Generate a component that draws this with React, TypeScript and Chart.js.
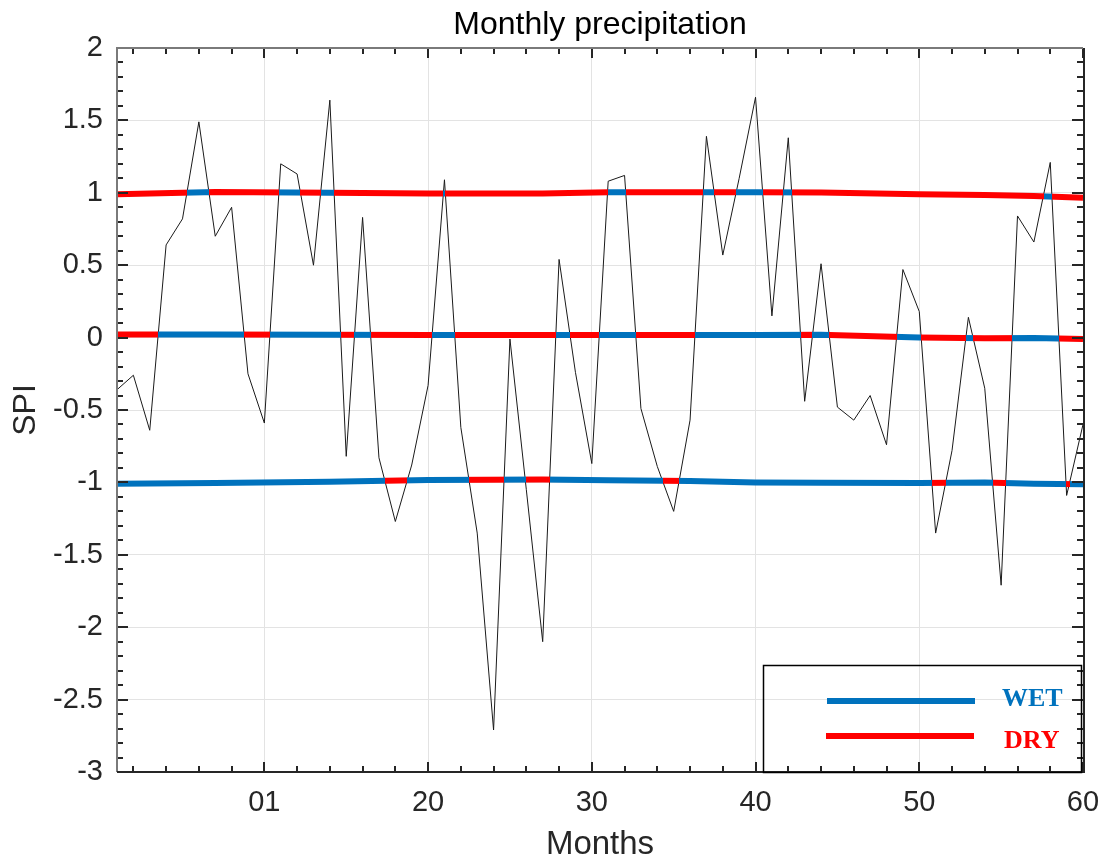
import React, { useEffect, useRef } from "react";
import { Chart, registerables } from "chart.js";

Chart.register(...registerables);

// ---------- data ----------
const months = [
  1, 2, 3, 4, 5, 6, 7, 8, 9, 10, 11, 12, 13, 14, 15, 16, 17, 18, 19, 20,
  21, 22, 23, 24, 25, 26, 27, 28, 29, 30, 31, 32, 33, 34, 35, 36, 37, 38, 39, 40,
  41, 42, 43, 44, 45, 46, 47, 48, 49, 50, 51, 52, 53, 54, 55, 56, 57, 58, 59, 60,
];
const spi = [
  -0.36, -0.26, -0.64, 0.64, 0.82, 1.49, 0.7, 0.9, -0.25, -0.59,
  1.2, 1.13, 0.5, 1.64, -0.82, 0.83, -0.83, -1.27, -0.88, -0.33,
  1.09, -0.62, -1.35, -2.71, -0.01, -1.05, -2.1, 0.54, -0.24, -0.87,
  1.08, 1.12, -0.49, -0.89, -1.2, -0.57, 1.39, 0.57, 1.1, 1.66,
  0.15, 1.38, -0.44, 0.51, -0.48, -0.57, -0.4, -0.74, 0.47, 0.18,
  -1.35, -0.78, 0.14, -0.35, -1.71, 0.84, 0.66, 1.21, -1.09, -0.6,
];
const trendMonths = [1, 7, 14, 20, 27, 31, 36, 40, 44, 50, 54, 57, 60];
const upperTrend = [0.99, 1.005, 1.0, 0.995, 0.995, 1.003, 1.003, 1.003, 1.002, 0.99, 0.985, 0.978, 0.965];
const middleTrend = [0.022, 0.022, 0.02, 0.018, 0.018, 0.018, 0.018, 0.018, 0.02, 0.0, -0.005, -0.002, -0.01];
const lowerTrend = [-1.01, -1.005, -0.995, -0.983, -0.98, -0.985, -0.99, -1.0, -1.002, -1.005, -1.0, -1.01, -1.013];
const thresholdLevels = [1, 0, -1];

const xTickValues = [10, 20, 30, 40, 50, 60];
const xTickLabels = ["01", "20", "30", "40", "50", "60"];
const yTickValues = [2, 1.5, 1, 0.5, 0, -0.5, -1, -1.5, -2, -2.5, -3];
const yTickLabels = ["2", "1.5", "1", "0.5", "0", "-0.5", "-1", "-1.5", "-2", "-2.5", "-3"];
const legendLabels = ["WET", "DRY"];
const titleText = "Monthly precipitation";
const xTitle = "Months";
const yTitle = "SPI";

// ---------- styles ----------
const WET_COLOR = "#0072BD";
const DRY_COLOR = "#FF0000";
const TEXT_COLOR = "#262626";
const GRID_COLOR = "#e3e3e3";
const SANS = "'Liberation Sans', Arial, Helvetica, sans-serif";
const SERIF = "'Liberation Serif', 'Times New Roman', serif";

function thresholdGradient(chart: any, level: number) {
  const area = chart.chartArea;
  if (!area) return WET_COLOR;
  const xs = chart.scales.x;
  const w = area.right - area.left;
  const g = chart.ctx.createLinearGradient(area.left, 0, area.right, 0);
  const colorFor = (v: number) => (v > level ? WET_COLOR : DRY_COLOR);
  let prev = colorFor(spi[0]);
  g.addColorStop(0, prev);
  for (let i = 0; i < spi.length - 1; i++) {
    const a = spi[i] - level;
    const b = spi[i + 1] - level;
    if (a > 0 !== b > 0) {
      const m = months[i] + (a / (a - b)) * (months[i + 1] - months[i]);
      let pos = (xs.getPixelForValue(m) - area.left) / w;
      pos = Math.max(0, Math.min(1, pos));
      const next = colorFor(spi[i + 1]);
      g.addColorStop(pos, prev);
      g.addColorStop(pos, next);
      prev = next;
    }
  }
  g.addColorStop(1, prev);
  return g;
}

const titlePlugin = {
  id: "matlabTitle",
  afterDraw(chart: any) {
    const { ctx, chartArea } = chart;
    ctx.save();
    ctx.fillStyle = "#000";
    ctx.font = `32px ${SANS}`;
    ctx.textAlign = "center";
    ctx.textBaseline = "middle";
    ctx.fillText(titleText, (chartArea.left + chartArea.right) / 2, 25);
    ctx.restore();
  },
};

const boxPlugin = {
  id: "matlabBox",
  afterDatasetsDraw(chart: any) {
    const { ctx, chartArea, scales } = chart;
    const { left, right, top, bottom } = chartArea;
    const xs = scales.x;
    const ys = scales.y;
    ctx.save();
    ctx.strokeStyle = TEXT_COLOR;
    ctx.lineWidth = 2;
    ctx.beginPath();
    for (let v = 2; v <= 60; v += 2) {
      const px = Math.round(xs.getPixelForValue(v));
      const len = v % 10 === 0 ? 10 : 6;
      ctx.moveTo(px, bottom);
      ctx.lineTo(px, bottom - len);
      ctx.moveTo(px, top);
      ctx.lineTo(px, top + len);
    }
    for (let k = -30; k <= 20; k++) {
      const py = Math.round(ys.getPixelForValue(k / 10));
      const len = k % 5 === 0 ? 11 : 6;
      ctx.moveTo(left, py);
      ctx.lineTo(left + len, py);
      ctx.moveTo(right, py);
      ctx.lineTo(right - len, py);
    }
    ctx.stroke();
    // box lines
    ctx.lineWidth = 2;
    ctx.strokeStyle = "#7a7a7a";
    ctx.beginPath();
    ctx.moveTo(left, bottom);
    ctx.lineTo(left, top);
    ctx.lineTo(right, top);
    ctx.stroke();
    ctx.strokeStyle = TEXT_COLOR;
    ctx.beginPath();
    ctx.moveTo(left, bottom);
    ctx.lineTo(right + 1, bottom);
    ctx.moveTo(right + 1, bottom + 1);
    ctx.lineTo(right + 1, top);
    ctx.stroke();
    ctx.restore();
  },
  afterDraw(chart: any) {
    const { ctx, chartArea } = chart;
    const bx = chartArea.right - 320;
    const by = chartArea.bottom - 107;
    const bw = 318;
    const bh = 107;
    ctx.save();
    ctx.strokeStyle = "#000";
    ctx.lineWidth = 1.5;
    ctx.strokeRect(bx + 0.5, by + 0.5, bw, bh);
    const colors = [WET_COLOR, DRY_COLOR];
    const rows = [by + 36, by + 71];
    const textRows = [by + 34, by + 76];
    ctx.lineWidth = 6;
    ctx.lineCap = "butt";
    ctx.font = `bold 26px ${SERIF}`;
    ctx.textAlign = "left";
    ctx.textBaseline = "middle";
    legendLabels.forEach((lab, i) => {
      ctx.strokeStyle = colors[i];
      ctx.beginPath();
      ctx.moveTo(bx + 64 - i, rows[i]);
      ctx.lineTo(bx + 212 - i, rows[i]);
      ctx.stroke();
      ctx.fillStyle = colors[i];
      ctx.fillText(lab, bx + 239 + i * 2, textRows[i]);
    });
    ctx.restore();
  },
};

export default function App() {
  const canvasRef = useRef<HTMLCanvasElement | null>(null);

  useEffect(() => {
    if (!canvasRef.current) return;
    const trends = [upperTrend, middleTrend, lowerTrend];
    const thresholdSets = trends.map((vals, idx) => ({
      label: `threshold ${thresholdLevels[idx]}`,
      data: trendMonths.map((m, i) => ({ x: m, y: vals[i] })),
      borderColor: (c: any) => thresholdGradient(c.chart, thresholdLevels[idx]),
      borderWidth: 6,
      borderCapStyle: "butt" as const,
      pointRadius: 0,
      tension: 0,
      fill: false,
    }));
    const chart = new Chart(canvasRef.current, {
      type: "line",
      data: {
        datasets: [
          ...thresholdSets,
          {
            label: "SPI",
            data: months.map((m, i) => ({ x: m, y: spi[i] })),
            borderColor: "#1a1a1a",
            borderWidth: 1,
            pointRadius: 0,
            tension: 0,
            fill: false,
          },
        ],
      },
      options: {
        animation: false,
        responsive: true,
        maintainAspectRatio: false,
        layout: { padding: { top: 48, right: 21, left: 0, bottom: 0 } },
        plugins: {
          legend: { display: false },
          title: { display: false },
          tooltip: { enabled: false },
        },
        scales: {
          x: {
            type: "linear",
            min: 1,
            max: 60,
            grid: { color: GRID_COLOR, lineWidth: 1, drawTicks: false },
            border: { display: false },
            afterBuildTicks: (scale: any) => {
              scale.ticks = xTickValues.map((v) => ({ value: v }));
            },
            afterFit: (scale: any) => {
              scale.height = 89;
              scale.paddingLeft = 0;
              scale.paddingRight = 0;
            },
            ticks: {
              autoSkip: false,
              maxRotation: 0,
              padding: 14,
              color: TEXT_COLOR,
              font: { family: SANS, size: 29 },
              callback: (v: any) => {
                const i = xTickValues.indexOf(Number(v));
                return i >= 0 ? xTickLabels[i] : "";
              },
            },
            title: {
              display: true,
              text: xTitle,
              color: TEXT_COLOR,
              font: { family: SANS, size: 33 },
              padding: { top: 0, bottom: -4 },
            },
          },
          y: {
            type: "linear",
            min: -3,
            max: 2,
            grid: { color: GRID_COLOR, lineWidth: 1, drawTicks: false },
            border: { display: false },
            afterBuildTicks: (scale: any) => {
              scale.ticks = yTickValues.map((v) => ({ value: v }));
            },
            afterFit: (scale: any) => {
              scale.width = 117;
              scale.paddingTop = 0;
              scale.paddingBottom = 0;
            },
            ticks: {
              autoSkip: false,
              padding: 14,
              color: TEXT_COLOR,
              font: { family: SANS, size: 29 },
              callback: (v: any) => {
                const i = yTickValues.indexOf(Number(v));
                return i >= 0 ? yTickLabels[i] : "";
              },
            },
            title: {
              display: true,
              text: yTitle,
              color: TEXT_COLOR,
              font: { family: SANS, size: 32 },
              padding: { top: 7, bottom: 0 },
            },
          },
        },
      },
      plugins: [titlePlugin, boxPlugin],
    });
    return () => chart.destroy();
  }, []);

  return (
    <div style={{ position: "fixed", left: 0, top: 0, width: 1104, height: 861, background: "#fff" }}>
      <canvas ref={canvasRef} />
    </div>
  );
}
